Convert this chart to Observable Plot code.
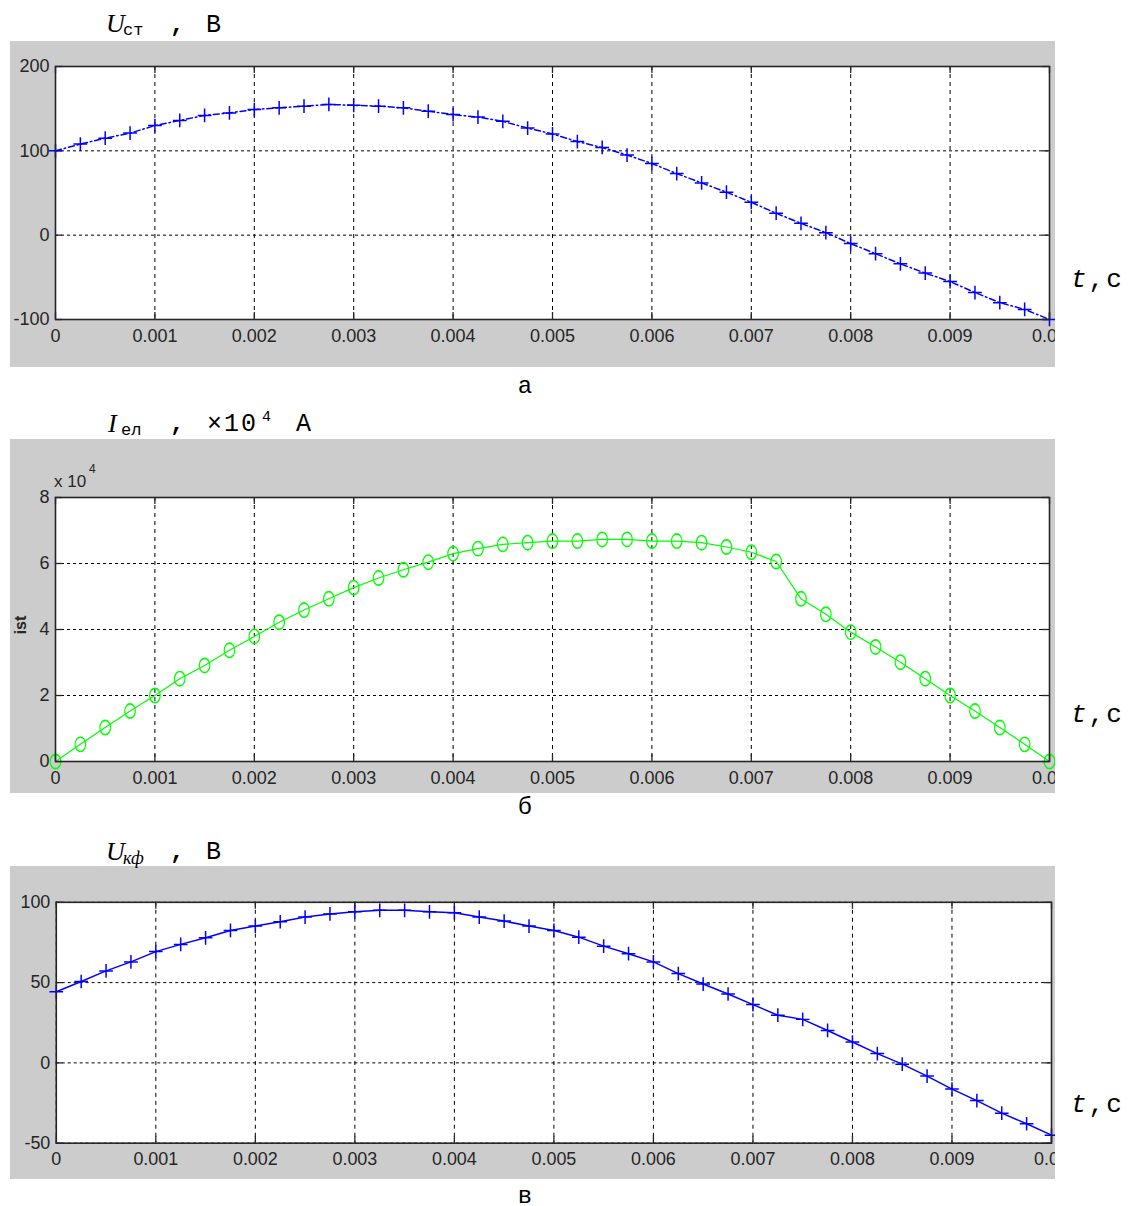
<!DOCTYPE html>
<html><head><meta charset="utf-8">
<script src="https://cdn.jsdelivr.net/npm/d3@7"></script>
<script src="https://cdn.jsdelivr.net/npm/@observablehq/plot@0.6"></script>
<style>
html,body{margin:0;padding:0;background:#fff;}
#root{position:relative;width:1128px;height:1206px;overflow:hidden;background:#fff;}
.panel{position:absolute;background:#cccccc;overflow:hidden;}
.panel svg{display:block;}
#ann{position:absolute;left:0;top:0;pointer-events:none;}
.ell circle{transform-box:fill-box;transform-origin:center;transform:scaleY(1.35);}
</style></head><body><div id="root">
<div class="panel" id="pa" style="left:10px;top:41px;width:1045px;height:326px"></div>
<div class="panel" id="pb" style="left:10px;top:439px;width:1045px;height:354px"></div>
<div class="panel" id="pc" style="left:10px;top:866px;width:1045px;height:313px"></div>
<svg id="ann" width="1128" height="1206">
 <g font-family="'Liberation Mono','DejaVu Sans Mono',monospace" fill="#000">
  <text x="106" y="32" font-family="'Liberation Serif',serif" font-style="italic" font-size="26">U</text>
  <text x="123" y="35" font-size="17">ст</text>
  <text x="170" y="32" font-size="24" font-weight="bold">,</text>
  <text x="206" y="32" font-size="25">В</text>

  <text x="108" y="432" font-family="'Liberation Serif',serif" font-style="italic" font-size="26">I</text>
  <text x="121" y="435" font-size="17">ел</text>
  <text x="170" y="431" font-size="24" font-weight="bold">,</text>
  <text x="207" y="431" font-size="25" letter-spacing="2">×10</text>
  <text x="262" y="421" font-size="15">4</text>
  <text x="296" y="431" font-size="25">А</text>

  <text x="106" y="860" font-family="'Liberation Serif',serif" font-style="italic" font-size="26">U</text>
  <text x="123" y="864" font-family="'Liberation Serif',serif" font-style="italic" font-size="18">кф</text>
  <text x="170" y="859" font-size="24" font-weight="bold">,</text>
  <text x="206" y="859" font-size="25">В</text>

  <text x="1071" y="287" font-size="26" letter-spacing="2"><tspan font-style="italic">t</tspan>,с</text>
  <text x="1071" y="722" font-size="26" letter-spacing="2"><tspan font-style="italic">t</tspan>,с</text>
  <text x="1071" y="1112" font-size="26" letter-spacing="2"><tspan font-style="italic">t</tspan>,с</text>

  <text x="525" y="393" font-size="24" text-anchor="middle">а</text>
  <text x="525" y="814" font-size="24" text-anchor="middle">б</text>
  <text x="525" y="1203" font-size="24" text-anchor="middle">в</text>
 </g>
 <g font-family="'Liberation Sans',Arial,sans-serif" fill="#262626">
  <text transform="translate(26,625) rotate(-90)" text-anchor="middle" font-weight="bold" font-size="16">ist</text>
  <text x="54" y="487" font-size="17">x 10</text>
  <text x="89" y="473" font-size="12">4</text>
 </g>
</svg>
</div>
<script>
const time = [0,0.00025,0.0005,0.00075,0.001,0.00125,0.0015,0.00175,0.002,0.00225,0.0025,0.00275,0.003,0.00325,0.0035,0.00375,0.004,0.00425,0.0045,0.00475,0.005,0.00525,0.0055,0.00575,0.006,0.00625,0.0065,0.00675,0.007,0.00725,0.0075,0.00775,0.008,0.00825,0.0085,0.00875,0.009,0.00925,0.0095,0.00975,0.01];
const xTicks = [0,0.001,0.002,0.003,0.004,0.005,0.006,0.007,0.008,0.009,0.01];
const xTickLabels = ["0","0.001","0.002","0.003","0.004","0.005","0.006","0.007","0.008","0.009","0.01"];

// а: U_ст, В
const uStValues = [100,108,115,121,130,136,142,145,149,151,153,155,154,153,151,147,143,140,135,127,120,111,104,95,85,73,62,51,39,26,14,3,-10,-22,-34,-45,-55,-68,-80,-88,-100];
const uStTicks = [-100,0,100,200];

// б: I_ел, ×10^4 A
const iElValues = [0,0.52,1.03,1.53,2.0,2.51,2.91,3.37,3.79,4.22,4.59,4.93,5.27,5.56,5.81,6.04,6.30,6.45,6.58,6.63,6.68,6.68,6.73,6.73,6.68,6.68,6.63,6.50,6.34,6.06,4.93,4.46,3.92,3.47,3.01,2.51,2.0,1.53,1.03,0.52,0];
const iElTicks = [0,2,4,6,8];

// в: U_кф, В
const uKfValues = [44.3,50.7,57.3,62.9,69.3,73.8,77.9,82.5,85.2,87.9,90.8,92.8,94.1,95.0,95.0,94.1,93.5,90.8,88.3,85.2,82.5,78.3,72.7,68.0,62.9,55.6,49.1,42.9,36.3,29.7,27.1,20.2,13.0,5.8,-0.8,-8.2,-16.3,-23.5,-31.3,-37.9,-45];
const uKfTicks = [-50,0,50,100];

function panel(cfg) {
  const {width, height, mt, mb, ml, mr, yDomain, yTicks, values, color, lineWidth, dash, symbol, r, dotClass, markerWidth, padX} = cfg;
  const rows = time.map((t, i) => ({t, v: values[i]}));
  const pw = width - ml - mr, ph = height - mt - mb;
  const tk = 7;
  const fmtX = d => xTickLabels[xTicks.indexOf(d)];
  return Plot.plot({
    width, height, marginTop: mt, marginBottom: mb, marginLeft: ml, marginRight: mr,
    x: {domain: [0, 0.01]},
    y: {domain: yDomain},
    style: {fontFamily: "'Liberation Sans', Arial, sans-serif", fontSize: "18px", color: "#262626", background: "transparent", overflow: "visible"},
    marks: [
      Plot.frame({fill: "white", stroke: null}),
      Plot.gridX(xTicks, {stroke: "#000", strokeOpacity: 1, strokeWidth: 1, strokeDasharray: "4,4"}),
      Plot.gridY(yTicks, {stroke: "#000", strokeOpacity: 1, strokeWidth: 1, strokeDasharray: "3,3"}),
      Plot.ruleX(xTicks, {insetTop: ph - tk, stroke: "#262626", strokeWidth: 1.3}),
      Plot.ruleX(xTicks, {insetBottom: ph - tk, stroke: "#262626", strokeWidth: 1.3}),
      Plot.ruleY(yTicks, {insetRight: pw - tk, stroke: "#262626", strokeWidth: 1.3}),
      Plot.ruleY(yTicks, {insetLeft: pw - tk, stroke: "#262626", strokeWidth: 1.3}),
      Plot.line(rows, {x: "t", y: "v", stroke: color, strokeWidth: lineWidth, strokeDasharray: dash}),
      Plot.dot(rows, {x: "t", y: "v", symbol, r, stroke: color, strokeWidth: markerWidth, fill: "none", className: dotClass}),
      Plot.frame({stroke: "#262626", strokeWidth: 1.6}),
      Plot.axisX(xTicks, {anchor: "bottom", tickSize: 0, tickPadding: padX, tickFormat: fmtX, label: null}),
      Plot.axisY(yTicks, {anchor: "left", tickSize: 0, tickPadding: 6, tickFormat: d => String(d), label: null})
    ]
  });
}

document.getElementById("pa").append(panel({
  width: 1045, height: 326, mt: 25, mb: 48, ml: 45, mr: 6,
  yDomain: [-100, 200], yTicks: uStTicks, values: uStValues,
  color: "#0000ff", lineWidth: 1.5, dash: "6,3,1.5,3", symbol: "plus", r: 4.5, markerWidth: 1.5, dotClass: "plus", padX: 10
}));
document.getElementById("pb").append(panel({
  width: 1045, height: 354, mt: 58, mb: 32, ml: 45, mr: 6,
  yDomain: [0, 8], yTicks: iElTicks, values: iElValues,
  color: "#00ff00", lineWidth: 1.2, dash: null, symbol: "circle", r: 5.3, markerWidth: 1.2, dotClass: "ell", padX: 10
}));
document.getElementById("pc").append(panel({
  width: 1050, height: 313, mt: 36, mb: 35, ml: 46, mr: 4,
  yDomain: [-50, 100], yTicks: uKfTicks, values: uKfValues,
  color: "#0000ff", lineWidth: 1.5, dash: null, symbol: "plus", r: 4.5, markerWidth: 1.5, dotClass: "plus", padX: 9
}));
</script>
</body></html>
